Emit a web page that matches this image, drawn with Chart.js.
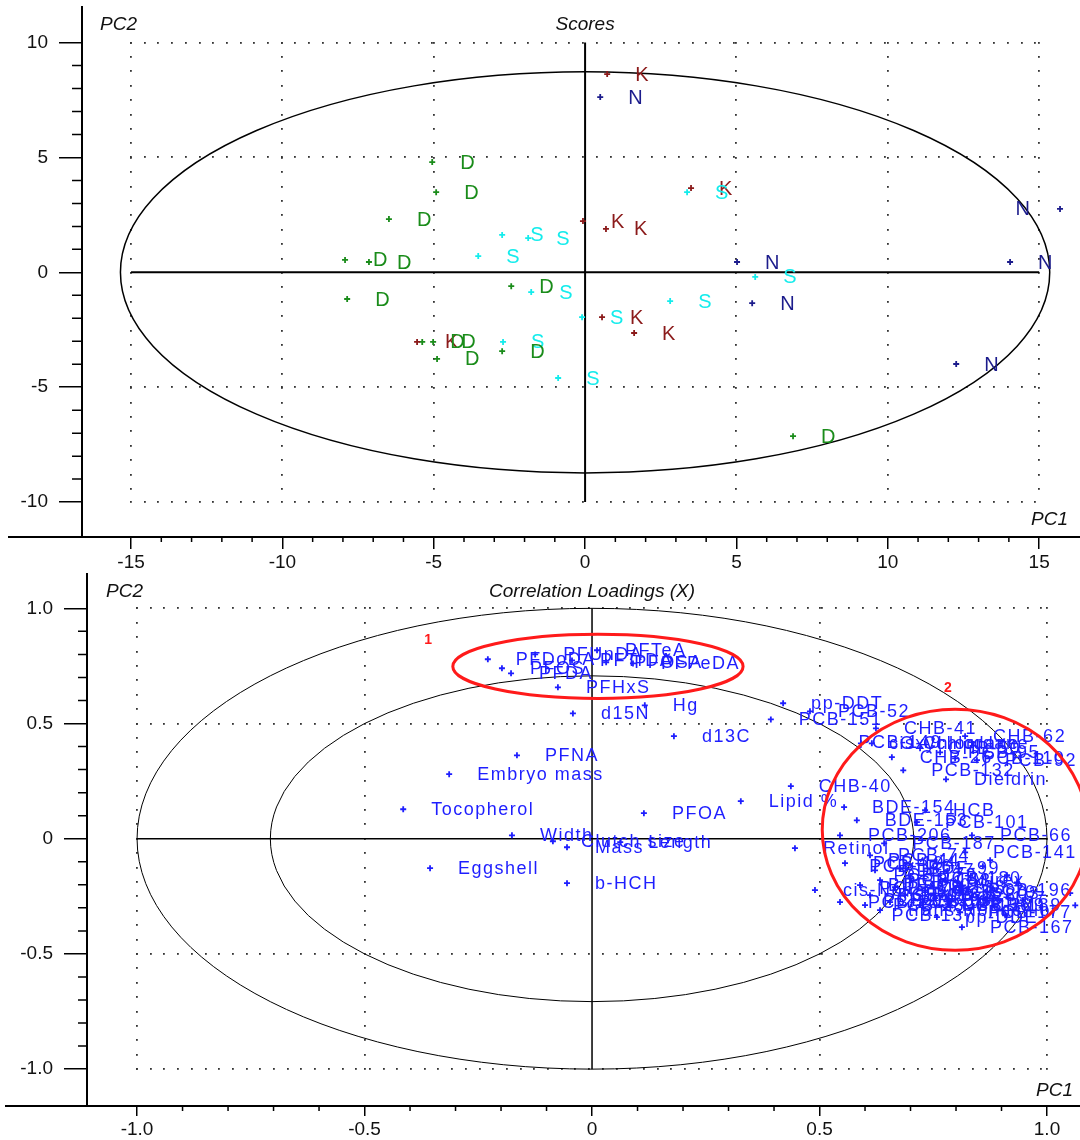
<!DOCTYPE html>
<html>
<head>
<meta charset="utf-8">
<script src="https://cdn.jsdelivr.net/npm/chart.js@4.4.1/dist/chart.umd.min.js"></script>
<style>
  body { margin: 0; background: #fff; }
  .wrap { position: relative; width: 1080px; height: 570px; }
</style>
</head>
<body>
<div class="wrap"><canvas id="scores" width="1080" height="570"></canvas></div>
<div class="wrap"><canvas id="loadings" width="1080" height="570"></canvas></div>
<script>
// ---- Scores (PC1 / PC2), one pair of arrays per group ----
const kPC1 = [0.73, -0.07, 0.69, 3.50, 0.56, 1.62, -5.55];
const kPC2 = [8.63, 2.23, 1.89, 3.67, -1.95, -2.64, -3.03];
const nPC1 = [0.50, 5.02, 5.52, 14.04, 15.69, 12.26];
const nPC2 = [7.63, 0.45, -1.34, 0.45, 2.76, -3.99];
const sPC1 = [3.37, -2.74, -1.88, -3.53, -1.78, -0.10, 2.81, -2.71, -0.89, 5.62];
const sPC2 = [3.49, 1.63, 1.49, 0.71, -0.86, -1.95, -1.25, -3.03, -4.60, -0.20];
const dPC1 = [-5.05, -4.92, -6.48, -7.93, -7.14, -7.86, -2.44, -5.38, -5.02, -4.89, -2.74, 6.87];
const dPC2 = [4.80, 3.49, 2.32, 0.54, 0.45, -1.16, -0.60, -3.03, -3.03, -3.77, -3.43, -7.13];

const scoreTicksX = [-15, -10, -5, 0, 5, 10, 15];
const scoreTicksY = [-10, -5, 0, 5, 10];
const scoreEllipse = [15.35, 8.73]; // Hotelling semi axes

// ---- Correlation loadings (X) ----
const loadNames = [
  "PFDoDA", "PFOS", "PFDA", "PFUnDA", "PFTrDA", "PFTeA", "PFPeDA", "PFOSA", "PFHxS",
  "d15N", "Hg", "d13C", "PFNA", "Embryo mass", "Tocopherol", "PFOA", "Lipid %",
  "Width", "Clutch size", "Mass", "Length", "Eggshell", "b-HCH", "Retinol", "CHB-40",
  "pp-DDT", "PCB-151", "PCB-52", "CHB-41", "cis-Chlordane", "Oxychlordane", "CHB-26",
  "CHB-62", "PCB-149", "CHB-50", "PCB-95", "PCB-110", "PCB-92", "PCB-132", "Dieldrin",
  "BDE-154", "BDE-153", "HCB", "PCB-101", "PCB-206", "PCB-187", "PCB-66", "PCB-141",
  "PCB-44", "PCB-74", "PCB-194", "cis-Nonachlor", "PCB-183", "pp-DDE", "PCB-167",
  "PCB-99", "PCB-137", "PCB-153", "PCB-138", "PCB-180", "PCB-170", "PCB-118", "PCB-105",
  "PCB-128", "PCB-156", "PCB-157", "PCB-189", "BDE-47", "BDE-99", "BDE-100", "Mirex",
  "trans-Nonachlor", "PCB-28", "PCB-196", "PCB-177", "PCB-146", "PCB-172", "PCB-174",
  "PCB-178", "PCB-190", "PCB-203", "PCB-209"
];
const loadPC1 = [
  -0.229, -0.198, -0.178, -0.125, -0.044, 0.011, 0.090, 0.031, -0.075,
  -0.042, 0.116, 0.180, -0.165, -0.314, -0.415, 0.114, 0.327,
  -0.176, -0.086, -0.055, 0.062, -0.356, -0.055, 0.446, 0.437,
  0.420, 0.393, 0.479, 0.624, 0.591, 0.615, 0.659,
  0.820, 0.835, 0.721, 0.765, 0.798, 0.846, 0.684, 0.778,
  0.554, 0.582, 0.732, 0.714, 0.545, 0.642, 0.835, 0.820,
  0.875, 0.611, 0.556, 0.490, 0.545, 0.758, 0.813,
  0.864, 0.908, 0.633, 0.666, 0.699, 0.732, 0.611, 0.655,
  0.688, 0.721, 0.754, 0.787, 0.622, 0.677, 0.589, 0.776,
  0.633, 0.600, 0.809, 0.809, 0.859, 0.912, 0.934,
  0.881, 0.947, 1.051, 1.062
];
const loadPC2 = [
  0.779, 0.740, 0.718, 0.800, 0.774, 0.818, 0.761, 0.766, 0.657,
  0.544, 0.579, 0.445, 0.362, 0.280, 0.128, 0.111, 0.163,
  0.015, -0.011, -0.037, -0.015, -0.128, -0.193, -0.041, 0.228,
  0.588, 0.518, 0.553, 0.479, 0.414, 0.414, 0.354,
  0.445, 0.419, 0.393, 0.375, 0.349, 0.341, 0.297, 0.258,
  0.137, 0.080, 0.124, 0.072, 0.015, -0.020, 0.015, -0.059,
  -0.093, -0.072, -0.106, -0.223, -0.275, -0.340, -0.384,
  -0.267, -0.332, -0.180, -0.210, -0.171, -0.232, -0.245, -0.275,
  -0.245, -0.288, -0.258, -0.288, -0.137, -0.128, -0.201, -0.180,
  -0.310, -0.288, -0.223, -0.319, -0.119, -0.158, -0.189,
  -0.215, -0.267, -0.236, -0.289
];

const loadTicksX = [-1.0, -0.5, 0, 0.5, 1.0];
const loadTickLabelsX = ["-1.0", "-0.5", "0", "0.5", "1.0"];
const loadTicksY = [-1.0, -0.5, 0, 0.5, 1.0];
const loadTickLabelsY = ["-1.0", "-0.5", "0", "0.5", "1.0"];
const loadCircles = [1.0, 0.707];

// red highlight ellipses: centre, semi axes, label
const markNames = ["1", "2"];
const markCX = [0.013, 0.798];
const markCY = [0.748, 0.039];
const markRX = [0.319, 0.292];
const markRY = [0.139, 0.523];
const markLabelX = [-0.36, 0.782];
const markLabelY = [0.864, 0.653];

const FONT = '"Liberation Sans", Arial, sans-serif';

function dotsH(ctx, x1, x2, y, step) {
  for (let x = x1; x <= x2 + 0.5; x += step) ctx.fillRect(Math.round(x) - 1, Math.round(y) - 1, 1.8, 1.8);
}
function dotsV(ctx, x, y1, y2, step) {
  for (let y = y1; y <= y2 + 0.5; y += step) ctx.fillRect(Math.round(x) - 1, Math.round(y) - 1, 1.8, 1.8);
}
function ellipse(ctx, sx, sy, cx, cy, rx, ry) {
  const px = sx.getPixelForValue(cx), py = sy.getPixelForValue(cy);
  const prx = Math.abs(sx.getPixelForValue(cx + rx) - px);
  const pry = Math.abs(sy.getPixelForValue(cy + ry) - py);
  ctx.beginPath();
  ctx.ellipse(px, py, prx, pry, 0, 0, Math.PI * 2);
  ctx.stroke();
}

// frame: dotted grid box, crosshair, minor ticks, axis names
function framePlugin(o) {
  return {
    id: "frame",
    beforeDatasetsDraw(chart) {
      const ctx = chart.ctx, sx = chart.scales.x, sy = chart.scales.y;
      const x1 = sx.getPixelForValue(o.grid[0]), x2 = sx.getPixelForValue(o.grid[1]);
      const yTop = sy.getPixelForValue(o.gridY[1]), yBot = sy.getPixelForValue(o.gridY[0]);
      ctx.save();
      ctx.fillStyle = "#333";
      o.ticksX.forEach(v => { if (v !== 0) dotsV(ctx, sx.getPixelForValue(v), yTop, yBot, 14.4); });
      o.ticksY.forEach(v => { if (v !== 0) dotsH(ctx, x1, x2, sy.getPixelForValue(v), 13.7); });
      // crosshair
      ctx.strokeStyle = "#000";
      ctx.lineWidth = o.crossW;
      ctx.beginPath();
      ctx.moveTo(x1, sy.getPixelForValue(0)); ctx.lineTo(x2, sy.getPixelForValue(0));
      ctx.moveTo(sx.getPixelForValue(0), yTop); ctx.lineTo(sx.getPixelForValue(0), yBot);
      ctx.stroke();
      // ellipses
      ctx.lineWidth = o.ellW;
      o.ellipses.forEach(e => ellipse(ctx, sx, sy, 0, 0, e[0], e[1]));
      ctx.restore();
    },
    afterDraw(chart) {
      const ctx = chart.ctx, sx = chart.scales.x, sy = chart.scales.y, a = chart.chartArea;
      ctx.save();
      ctx.strokeStyle = "#000";
      ctx.lineWidth = 2;
      ctx.beginPath();
      ctx.moveTo(o.stubX, a.bottom); ctx.lineTo(a.left, a.bottom);
      ctx.stroke();
      ctx.lineWidth = 1.5;
      ctx.beginPath();
      for (let i = o.minorY[0]; i <= o.minorY[1]; i++) {
        if (i % 5 === 0) continue;
        const y = sy.getPixelForValue(i * o.minorStep);
        ctx.moveTo(a.left - o.minorLenY, y); ctx.lineTo(a.left, y);
      }
      for (let i = o.minorX[0]; i <= o.minorX[1]; i++) {
        if (i % 5 === 0) continue;
        const x = sx.getPixelForValue(i * o.minorStep);
        ctx.moveTo(x, a.bottom); ctx.lineTo(x, a.bottom + 5);
      }
      ctx.stroke();
      ctx.fillStyle = "#111";
      ctx.font = "italic 19px " + FONT;
      ctx.textBaseline = "middle";
      ctx.textAlign = "left";
      ctx.fillText("PC2", a.left + o.pc2dx, o.titleY);
      ctx.textAlign = "center";
      ctx.fillText(o.title, sx.getPixelForValue(0), o.titleY);
      ctx.textAlign = "right";
      ctx.fillText("PC1", o.pc1x, a.bottom - o.pc1dy);
      // red marks (loadings only)
      (o.marks || []).forEach((m, i) => {
        ctx.strokeStyle = "#ff1a1a";
        ctx.lineWidth = 3;
        ellipse(ctx, sx, sy, markCX[i], markCY[i], markRX[i], markRY[i]);
        ctx.fillStyle = "#ff1a1a";
        ctx.font = "bold 14px " + FONT;
        ctx.textAlign = "center";
        ctx.fillText(m, sx.getPixelForValue(markLabelX[i]), sy.getPixelForValue(markLabelY[i]));
      });
      ctx.restore();
    }
  };
}

// text labels next to each point
const labelPlugin = {
  id: "pointLabels",
  afterDatasetsDraw(chart) {
    const ctx = chart.ctx, a = chart.chartArea;
    ctx.save();
    ctx.textBaseline = "middle";
    chart.data.datasets.forEach((ds, i) => {
      const meta = chart.getDatasetMeta(i);
      ctx.font = ds.labelFont;
      if ("letterSpacing" in ctx) ctx.letterSpacing = ds.labelSpacing;
      ctx.fillStyle = ds.borderColor;
      meta.data.forEach((pt, j) => {
        const txt = ds.labels[j];
        const w = ctx.measureText(txt).width;
        let x = pt.x + 28;
        if (ds.flip && x + w > a.right) x = pt.x - 30 - w;
        ctx.fillText(txt, x, pt.y + 1);
      });
    });
    ctx.restore();
  }
};

function pts(xs, ys) { return xs.map((x, i) => ({ x: x, y: ys[i] })); }
function ds(xs, ys, labels, color, font, spacing) {
  return {
    data: pts(xs, ys), labels: labels, borderColor: color, backgroundColor: color,
    pointStyle: "cross", pointRadius: 3, borderWidth: 1.8, showLine: false, flip: true,
    labelFont: font, labelSpacing: spacing
  };
}

function noPad(s) { s.paddingLeft = 0; s.paddingRight = 0; s.paddingTop = 0; s.paddingBottom = 0; }

function axes(c) {
  const tickFont = { family: FONT, size: 19 };
  return {
    x: {
      type: "linear", min: c.xmin, max: c.xmax,
      afterBuildTicks: s => { s.ticks = c.ticksX.map(v => ({ value: v })); },
      afterFit: s => { s.height = c.xh; noPad(s); },
      grid: { drawOnChartArea: false, drawTicks: true, tickLength: c.tlx, color: "#000", lineWidth: 1.5 },
      border: { display: true, color: "#000", width: 2 },
      ticks: { color: "#111", font: tickFont, padding: 2, maxRotation: 0, autoSkip: false,
               callback: (v, i) => c.labelsX[i] }
    },
    y: {
      type: "linear", min: c.ymin, max: c.ymax,
      afterBuildTicks: s => { s.ticks = c.ticksY.map(v => ({ value: v })); },
      afterFit: s => { s.width = c.yw; noPad(s); },
      grid: { drawOnChartArea: false, drawTicks: true, tickLength: 23, color: "#000", lineWidth: 1.5 },
      border: { display: true, color: "#000", width: 2 },
      ticks: { color: "#111", font: tickFont, padding: 11, autoSkip: false,
               callback: (v, i) => c.labelsY[i] }
    }
  };
}

const common = {
  responsive: false, animation: false,
  plugins: { legend: { display: false }, tooltip: { enabled: false } }
};

const letterFont = "20px " + FONT;
new Chart(document.getElementById("scores"), {
  type: "scatter",
  data: {
    datasets: [
      ds(kPC1, kPC2, kPC1.map(() => "K"), "#8b1a1a", letterFont, "0px"),
      ds(nPC1, nPC2, nPC1.map(() => "N"), "#1c1c8c", letterFont, "0px"),
      ds(sPC1, sPC2, sPC1.map(() => "S"), "#14ecec", letterFont, "0px"),
      ds(dPC1, dPC2, dPC1.map(() => "D"), "#1a8c1a", letterFont, "0px")
    ]
  },
  options: Object.assign({}, common, {
    layout: { autoPadding: false, padding: { top: 7, right: 0, left: 0, bottom: 0 } },
    scales: axes({
      xmin: -16.62, xmax: 16.35, ymin: -11.52, ymax: 11.55,
      ticksX: scoreTicksX, labelsX: scoreTicksX.map(String),
      ticksY: scoreTicksY, labelsY: scoreTicksY.map(String),
      xh: 33, yw: 82, tlx: 12
    })
  }),
  plugins: [framePlugin({
    grid: [-15, 15], gridY: [-10, 10], ticksX: scoreTicksX, ticksY: scoreTicksY,
    crossW: 2, ellW: 1.5, ellipses: [scoreEllipse],
    stubX: 8, minorX: [-15, 15], minorY: [-10, 10], minorStep: 1, minorLenY: 10,
    pc2dx: 18, titleY: 25, title: "Scores", pc1x: 1068, pc1dy: 17
  }), labelPlugin]
});

new Chart(document.getElementById("loadings"), {
  type: "scatter",
  data: {
    datasets: [ds(loadPC1, loadPC2, loadNames, "#1e1eff", "18px " + FONT, "1.5px")]
  },
  options: Object.assign({}, common, {
    layout: { autoPadding: false, padding: { top: 4, right: 0, left: 0, bottom: 0 } },
    scales: axes({
      xmin: -1.11, xmax: 1.0725, ymin: -1.16, ymax: 1.149,
      ticksX: loadTicksX, labelsX: loadTickLabelsX,
      ticksY: loadTicksY, labelsY: loadTickLabelsY,
      xh: 34, yw: 87, tlx: 10
    })
  }),
  plugins: [framePlugin({
    grid: [-1, 1], gridY: [-1, 1], ticksX: loadTicksX, ticksY: loadTicksY,
    crossW: 1.5, ellW: 1, ellipses: loadCircles.map(r => [r, r]),
    stubX: 5, minorX: [-10, 10], minorY: [-10, 10], minorStep: 0.1, minorLenY: 9,
    pc2dx: 19, titleY: 22, title: "Correlation Loadings (X)", pc1x: 1073, pc1dy: 15,
    marks: markNames
  }), labelPlugin]
});
</script>
</body>
</html>
